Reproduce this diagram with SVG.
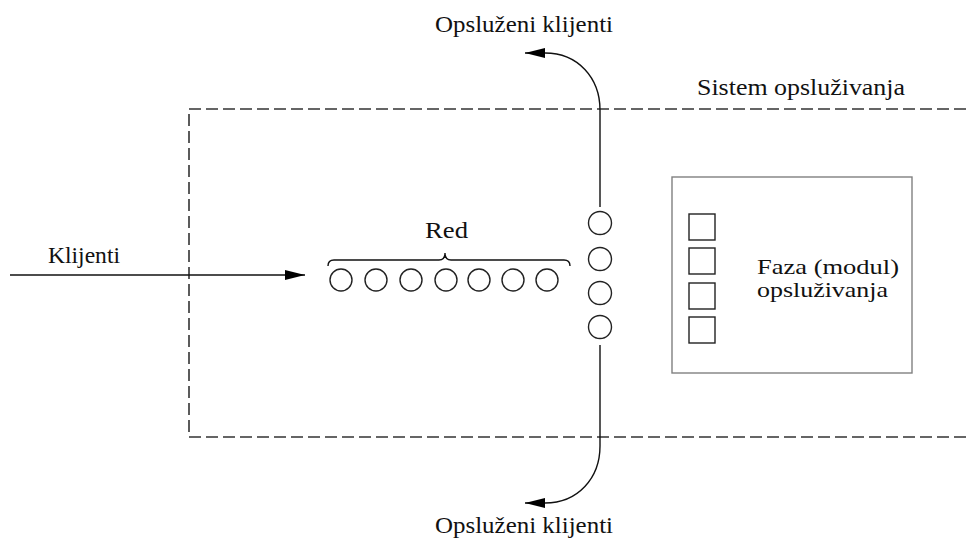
<svg xmlns="http://www.w3.org/2000/svg" width="966" height="547" viewBox="0 0 966 547">
<style>
text{font-family:"Liberation Serif","Times New Roman","DejaVu Serif",serif;font-size:23px;fill:#111}
.sm{font-size:21px}
.c{fill:#fff;stroke:#222;stroke-width:1.4}
.sq{fill:#fff;stroke:#222;stroke-width:1.4}
.ln{fill:none;stroke:#111;stroke-width:1.4}
.dash{fill:none;stroke:#333;stroke-width:1.6;stroke-dasharray:12 5}
</style>
<defs>
<marker id="ah" viewBox="0 0 20 10" refX="20" refY="5" markerWidth="20" markerHeight="10" markerUnits="userSpaceOnUse" orient="auto">
<path d="M0,0 L20,5 L0,10 Z" fill="#000"/>
</marker>
</defs>
<rect width="966" height="547" fill="#fff"/>
<g id="system">
<path class="dash" d="M966,109 L189,109 L189,437 L966,437"/>
<text x="697" y="95" textLength="208" lengthAdjust="spacingAndGlyphs">Sistem opsluživanja</text>
</g>
<g id="queue">
<path class="ln" d="M328,266 Q328,260 334,260 L439,260 Q445,260 445,253 Q445,260 451,260 L564,260 Q570,260 570,266"/>
<text x="425" y="238" textLength="43" lengthAdjust="spacingAndGlyphs">Red</text>
<circle class="c" cx="341" cy="280" r="11"/>
<circle class="c" cx="376" cy="280" r="11"/>
<circle class="c" cx="411" cy="280" r="11"/>
<circle class="c" cx="446" cy="280" r="11"/>
<circle class="c" cx="479" cy="280" r="11"/>
<circle class="c" cx="513" cy="280" r="11"/>
<circle class="c" cx="547" cy="280" r="11"/>
</g>
<g id="served-column">
<circle class="c" cx="600" cy="223" r="11.5"/>
<circle class="c" cx="600" cy="259" r="11.5"/>
<circle class="c" cx="600" cy="293" r="11.5"/>
<circle class="c" cx="600" cy="327" r="11.5"/>
</g>
<g id="service-phase">
<rect x="672" y="177" width="240" height="196" fill="#fff" stroke="#808080" stroke-width="1.4"/>
<rect class="sq" x="689" y="214" width="26" height="26"/>
<rect class="sq" x="689" y="248" width="26" height="26"/>
<rect class="sq" x="689" y="283" width="26" height="26"/>
<rect class="sq" x="689" y="317" width="26" height="26"/>
<text class="sm" x="757" y="274" textLength="142" lengthAdjust="spacingAndGlyphs">Faza (modul)</text>
<text class="sm" x="757" y="297" textLength="131" lengthAdjust="spacingAndGlyphs">opsluživanja</text>
</g>
<g id="labels">
<text x="48" y="263" textLength="72" lengthAdjust="spacingAndGlyphs">Klijenti</text>
<text x="435" y="32" textLength="178" lengthAdjust="spacingAndGlyphs">Opsluženi klijenti</text>
<text x="435" y="533" textLength="178" lengthAdjust="spacingAndGlyphs">Opsluženi klijenti</text>
</g>
<g id="connectors">
<path class="ln" d="M10,275 L305,275" marker-end="url(#ah)"/>
<path class="ln" d="M600,207 L600,110 C600,78 578,53 545,53 L525,53" marker-end="url(#ah)"/>
<path class="ln" d="M600,345 L600,446 C600,478 578,503 545,503 L525,503" marker-end="url(#ah)"/>
</g>
</svg>
